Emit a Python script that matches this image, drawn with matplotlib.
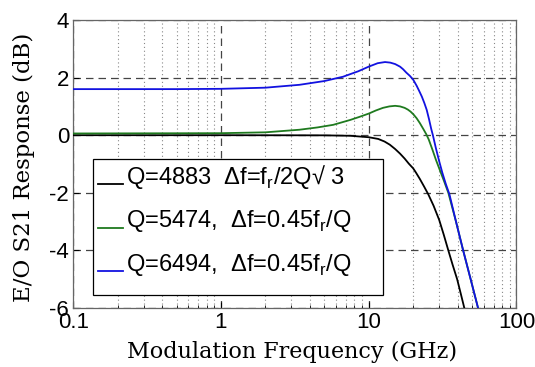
import numpy as np
import matplotlib
matplotlib.use("Agg")
import matplotlib.pyplot as plt
from matplotlib.ticker import FixedLocator, NullFormatter, LogLocator
from matplotlib.patches import Rectangle
from matplotlib.lines import Line2D

plt.rcParams['font.family'] = ['Liberation Sans', 'DejaVu Sans']
plt.rcParams['mathtext.fontset'] = 'custom'
plt.rcParams['mathtext.rm'] = 'Liberation Sans'
plt.rcParams['axes.unicode_minus'] = False

# Data (frequency in GHz, response in dB)
f_black = [0.1, 1, 5, 7.5, 10, 11.6, 12.8, 13.9, 15.1, 16.3, 17.5, 18.7, 20.0, 20.9, 22.2, 23.7,
           25.3, 27.5, 30.0, 32.2, 34.6, 37.0, 39.7, 42.0, 44.4, 46.0]
r_black = [0.0, 0.0, -0.005, -0.02, -0.07, -0.13, -0.22, -0.33, -0.48, -0.64, -0.81, -0.99, -1.15, -1.3, -1.52, -1.78,
           -2.05, -2.45, -2.94, -3.45, -4.0, -4.5, -5.0, -5.5, -6.0, -6.3]

f_green = [0.1, 1, 2, 3.4, 4.5, 5.75, 7.5, 8.7, 10, 11.2, 12.5, 13.8, 15.1, 16.3, 17.5, 18.4, 19.2, 20.1,
           21.1, 22.2, 23.4, 24.5, 25.5, 27.0, 28.5, 30.3, 32.4, 34.6, 39.0, 43.6, 49.0, 55.0, 57.0]
r_green = [0.06, 0.07, 0.10, 0.19, 0.27, 0.36, 0.53, 0.64, 0.75, 0.86, 0.95, 1.00, 1.02, 1.00, 0.95, 0.89, 0.82, 0.72,
           0.59, 0.42, 0.22, 0.04, -0.15, -0.5, -0.85, -1.21, -1.6, -2.0, -3.0, -4.0, -5.0, -6.0, -6.3]

f_blue = [0.1, 0.5, 1, 2, 3.4, 5, 6.7, 8.5, 10, 11.5, 12.9, 14.0, 15.1, 16.3, 17.1, 18.0, 19.0, 20.0, 21.1,
          22.0, 22.9, 23.8, 24.7, 25.6, 26.5, 27.2, 28.5, 30.0, 31.5, 33.3, 35.2, 39.0, 43.6, 49.0, 55.0, 57.0]
r_blue = [1.60, 1.60, 1.61, 1.65, 1.75, 1.88, 2.03, 2.22, 2.38, 2.50, 2.54, 2.52, 2.47, 2.38, 2.29, 2.17, 2.06, 1.93, 1.72,
          1.53, 1.34, 1.12, 0.88, 0.56, 0.22, 0.0, -0.45, -0.9, -1.3, -1.7, -2.05, -3.0, -4.0, -5.0, -6.0, -6.3]

labels = ['Q=4883  Δf=f$_{\\rm r}$/2Q√ 3',
          'Q=5474,  Δf=0.45f$_{\\rm r}$/Q',
          'Q=6494,  Δf=0.45f$_{\\rm r}$/Q']
colors = ['black', '#1f7a1f', '#1212e0']

x_ticks = [0.1, 1, 10, 100]
x_ticklabels = ['0.1', '1', '10', '100']
y_ticks = [4, 2, 0, -2, -4, -6]
y_ticklabels = ['4', '2', '0', '-2', '-4', '-6']

W, H = 535, 367
AX_L, AX_R, AX_T, AX_B = 73.3, 516.4, 20.0, 308.0

fig = plt.figure(figsize=(W / 100, H / 100), dpi=100)
ax = fig.add_axes([AX_L / W, (H - AX_B) / H, (AX_R - AX_L) / W, (AX_B - AX_T) / H])

def axc(px, py):
    return ((px - AX_L) / (AX_R - AX_L), (AX_B - py) / (AX_B - AX_T))

ax.set_xscale('log')
ax.set_xlim(0.1, 100)
ax.set_ylim(-6, 4)

for f, r, c in zip([f_black, f_green, f_blue], [r_black, r_green, r_blue], colors):
    ax.plot(f, r, color=c, lw=1.3, zorder=3, solid_joinstyle='round')

ax.xaxis.set_major_locator(FixedLocator(x_ticks))
ax.set_xticklabels(x_ticklabels)
ax.xaxis.set_minor_locator(LogLocator(base=10, subs=np.arange(2, 10)))
ax.xaxis.set_minor_formatter(NullFormatter())
ax.yaxis.set_major_locator(FixedLocator(y_ticks))
ax.set_yticklabels(y_ticklabels)

ax.grid(True, which='major', axis='both', linestyle=(0, (6, 4)), color='#444444', lw=0.9, zorder=1)
ax.grid(True, which='minor', axis='x', linestyle=(0, (1, 2.5)), color='#888888', lw=0.8, zorder=1)

ax.tick_params(which='both', direction='in', top=False, right=False, labelsize=16)
ax.tick_params(axis='y', pad=3)
ax.tick_params(axis='x', pad=3)
ax.tick_params(which='major', length=4)
ax.tick_params(which='minor', length=2.5)
for s in ax.spines.values():
    s.set_color('#666666')
    s.set_linewidth(0.9)

ax.set_xlabel('Modulation Frequency (GHz)', family='DejaVu Serif', fontsize=16)
ax.set_ylabel('E/O S21 Response (dB)', family='DejaVu Serif', fontsize=16.5)
ax.xaxis.label.set_va('center')
ax.yaxis.label.set_va('center')
ax.xaxis.set_label_coords(*axc(292, 352))
ax.yaxis.set_label_coords(*axc(24, 167))

# legend box (drawn manually to match the reference layout)
x0, y0 = axc(93, 295)
x1, y1 = axc(383, 159)
ax.add_patch(Rectangle((x0, y0), x1 - x0, y1 - y0, transform=ax.transAxes,
                       facecolor='white', edgecolor='black', lw=0.9, zorder=5))
baselines = [184, 227.5, 271]
for lab, c, yb in zip(labels, colors, baselines):
    hx0, hy = axc(98, yb)
    hx1, _ = axc(123, yb)
    ax.add_line(Line2D([hx0, hx1], [hy, hy], transform=ax.transAxes, color=c, lw=1.3, zorder=6))
    tx, ty = axc(126, yb)
    ax.text(tx, ty, lab, transform=ax.transAxes, fontsize=17, ha='left', va='baseline', zorder=7)

fig.savefig('out.png', dpi=100)
